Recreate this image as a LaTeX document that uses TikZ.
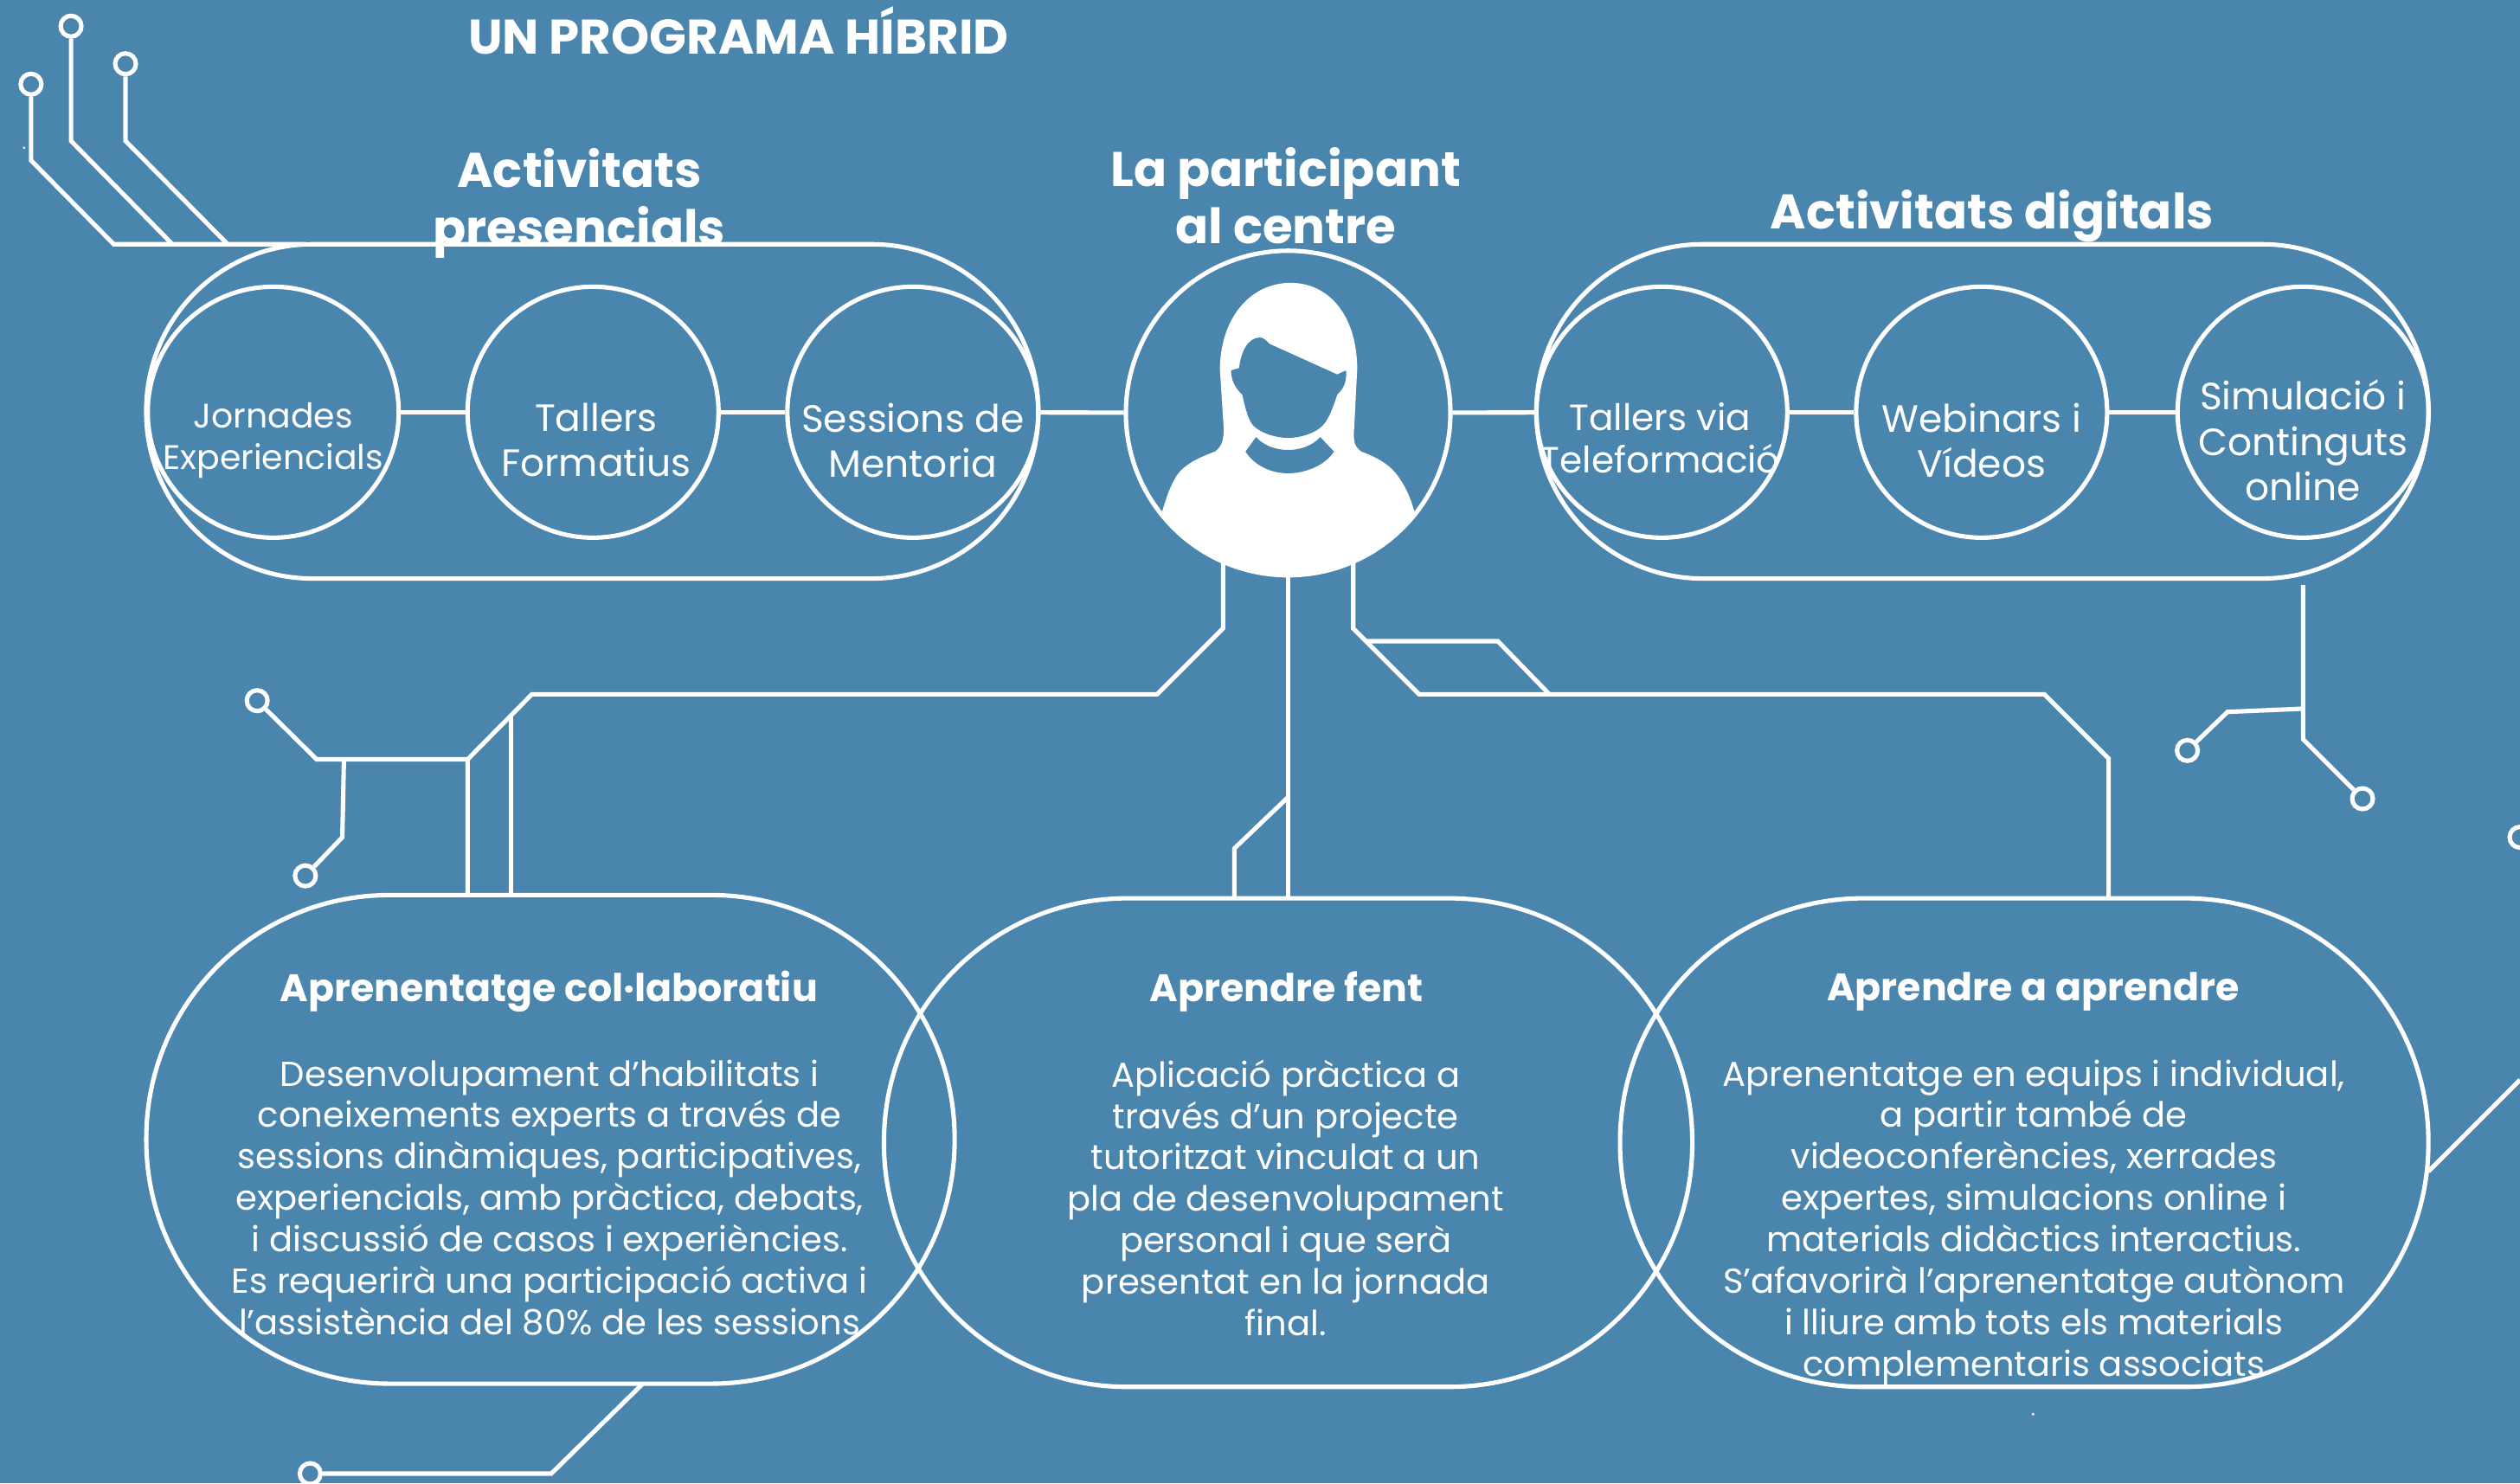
\documentclass[tikz,border=0pt]{standalone}
\usepackage{fontspec}
\setmainfont{Poppins}
\definecolor{bgblue}{RGB}{74,133,174}
\tikzset{
  wire/.style={draw=white,line width=1.45pt,line join=miter},
  circ/.style={circle,draw=white,line width=1.45pt,minimum size=2.9cm,inner sep=0pt},
  capsA/.style={rectangle,draw=white,line width=1.45pt,minimum width=10.307cm,minimum height=3.863cm,rounded corners=1.92cm,inner sep=0pt},
  capsB/.style={rectangle,draw=white,line width=1.45pt,minimum width=9.34cm,minimum height=5.646cm,rounded corners=2.81cm,inner sep=0pt},
  term/.style={circle,draw=white,line width=1.45pt,fill=bgblue,minimum size=0.24cm,inner sep=0pt},
  lbl/.style={text=white,align=center,inner sep=0pt,font=\fontsize{12.5}{14.8}\selectfont},
  lblS/.style={text=white,align=center,inner sep=0pt,font=\fontsize{11.2}{13.6}\selectfont},
  lblT/.style={text=white,align=center,inner sep=0pt,font=\fontsize{12}{14}\selectfont},
  head/.style={text=white,align=center,inner sep=0pt,font=\fontsize{16}{18.8}\selectfont\bfseries},
  subh/.style={text=white,align=center,inner sep=0pt,font=\fontsize{12.6}{14}\selectfont\bfseries},
  body/.style={text=white,align=center,inner sep=0pt,font=\fontsize{11.4}{13.62}\selectfont},
}
\begin{document}
\begin{tikzpicture}[x=0.018571cm,y=-0.018571cm]
\useasboundingbox[fill=bgblue] (0,0) rectangle (1568,923);
% capsules
\node[capsA] (capL) at (368.5,256) {};
\node[capsA] (capR) at (1233.5,256) {};
\node[capsB] (capA) at (342.5,709) {};
\node[capsB] (capB) at (801.5,711) {};
\node[capsB] (capC) at (1259.5,711) {};
% circles
\node[circ] (j) at (170,256.5) {};
\node[circ] (t) at (369,256.5) {};
\node[circ] (s) at (568,256.5) {};
\node[circ] (v) at (1034,256.5) {};
\node[circ] (w) at (1233,256.5) {};
\node[circ] (o) at (1433,256.5) {};
% person
\begin{scope}
\clip (801.5,257) circle [radius=101];
\fill[white] (803,176) .. controls (780,176) and (760,195) .. (759,229) -- (761.5,268)
 .. controls (761,275) and (760,278) .. (756,281) .. controls (745,285) and (735,290) .. (731,298)
 .. controls (727,305) and (725,312) .. (722,322) -- (722,370) -- (882,370) -- (881,322)
 .. controls (878,310) and (875,304) .. (871,298) .. controls (866,290) and (858,285) .. (847,281)
 .. controls (843,278) and (842,275) .. (842.5,268) -- (844.5,229) .. controls (844,195) and (826,176) .. (803,176) -- cycle;
\fill[bgblue] (771,229) .. controls (772,220) and (776,210) .. (784,210) .. controls (786,210) and (788,212) .. (790,214)
 -- (832,233) -- (837.5,230.5) .. controls (838,236) and (837,241) .. (832,245.6)
 .. controls (829,255) and (826,262) .. (822.7,265) .. controls (818,270) and (808,272.5) .. (801.5,272.5)
 .. controls (795,272.5) and (785,270) .. (780,265) .. controls (777,262) and (775,255) .. (773,245.6)
 .. controls (768,241) and (766,236) .. (766,230.5) -- cycle;
\fill[bgblue] (781.5,272) -- (775,281) .. controls (780,289) and (790,294.5) .. (801.5,294.5)
 .. controls (813,294.5) and (825,289) .. (830,281) -- (821.5,272) .. controls (816,278) and (808,280) .. (801.5,280)
 .. controls (795,280) and (787,278) .. (781.5,272) -- cycle;
\end{scope}
\node[circle,draw=white,line width=1.45pt,minimum size=3.75cm,inner sep=0pt] (p) at (801.5,257) {};
% circle-to-circle links
\draw[wire] (j) -- (t);
\draw[wire] (t) -- (s);
\draw[wire] (s) -- (p);
\draw[wire] (p) -- (v);
\draw[wire] (v) -- (w);
\draw[wire] (w) -- (o);
% terminals
\node[term] (a1) at (19.3,52.4) {};
\node[term] (a2) at (44.2,16.3) {};
\node[term] (a3) at (78.1,39.7) {};
\node[term] (b1) at (160,436) {};
\node[term] (b2) at (190,545) {};
\node[term] (d1) at (1361,467) {};
\node[term] (d2) at (1470,497) {};
\node[term] (e1) at (193,917) {};
\node[term] (f1) at (1568,521) {};
% named free ends
\coordinate (pL) at (761,345);
\coordinate (pR) at (842,345);
\coordinate (pC) at (801.5,358);
\coordinate (jA) at (291,472.5);
\coordinate (jB) at (318,446);
\coordinate (jC) at (214,472.5);
\coordinate (jD) at (801.5,496);
\coordinate (jE) at (850,399);
\coordinate (jF) at (964,432);
\coordinate (jG) at (1433,441);
\coordinate (capAa) at (291,557);
\coordinate (capAb) at (318,557);
\coordinate (capBa) at (801.5,559);
\coordinate (capBb) at (768,559);
\coordinate (capCa) at (1312,559);
\coordinate (capLt) at (190,152);
\coordinate (capRb) at (1433,364);
\coordinate (capAc) at (400,861);
\coordinate (capCr) at (1511,729);
\coordinate (edge) at (1568,672);
% top-left wires
\draw[wire] (a1) -- (19.3,99.8) -- (70.8,152) -- (capLt);
\draw[wire] (a2) -- (44.2,87.7) -- (107.3,152);
\draw[wire] (a3) -- (78.1,87.7) -- (141.7,152);
% participant to blocks
\draw[wire] (pL) -- (761,391) -- (720,432) -- (331,432) -- (jA) -- (capAa);
\draw[wire] (jB) -- (capAb);
\draw[wire] (jA) -- (197,472.5) -- (b1);
\draw[wire] (jC) -- (213,521) -- (b2);
\draw[wire] (pC) -- (capBa);
\draw[wire] (jD) -- (768,528) -- (capBb);
\draw[wire] (pR) -- (842,391) -- (883,432) -- (1272,432) -- (1312,472) -- (capCa);
\draw[wire] (jE) -- (932,399) -- (jF);
\draw[wire] (capRb) -- (1433,460) -- (d2);
\draw[wire] (jG) -- (1386,443) -- (d1);
\draw[wire] (capAc) -- (343,917) -- (e1);
\draw[wire] (capCr) -- (edge);
% specks
\fill[white] (15,92) circle [radius=0.8];
\fill[white] (1265,880) circle [radius=0.9];
% titles
\node[head] (h0) at (459.5,19) {UN PROGRAMA HÍBRID};
\node[head] (h1) at (360.5,126.5) {Activitats\\presencials};
\node[head] (h2) at (800,122) {La participant\\al centre};
\node[head] (h3) at (1239.5,134.5) {Activitats digitals};
% circle labels
\node[lblS] (lj) at (170,274) {Jornades\\Experiencials};
\node[lbl] (lt) at (371,274) {Tallers\\Formatius};
\node[lbl] (ls) at (568,274) {Sessions de\\Mentoria};
\node[lblT] (lv) at (1033,272.5) {Tallers via\\Teleformació};
\node[lbl] (lw) at (1233,274) {Webinars i\\Vídeos};
\node[lbl] (lo) at (1433,274) {Simulació i\\Continguts\\online};
% block text
\node[subh] (sa) at (341.5,617) {Aprenentatge col·laboratiu};
\node[subh] (sb) at (800.5,617) {Aprendre fent};
\node[subh] (sc) at (1265,617) {Aprendre a aprendre};
\node[body,anchor=north] (ba) at (342,659) {Desenvolupament d’habilitats i\\coneixements experts a través de\\sessions dinàmiques, participatives,\\experiencials, amb pràctica, debats,\\i discussió de casos i experiències.\\Es requerirà una participació activa i\\l’assistència del 80\% de les sessions};
\node[body,anchor=north] (bb) at (800,659) {Aplicació pràctica a\\través d’un projecte\\tutoritzat vinculat a un\\pla de desenvolupament\\personal i que serà\\presentat en la jornada\\final.};
\node[body,anchor=north] (bc) at (1265.5,659) {Aprenentatge en equips i individual,\\a partir també de\\videoconferències, xerrades\\expertes, simulacions online i\\materials didàctics interactius.\\S’afavorirà l’aprenentatge autònom\\i lliure amb tots els materials\\complementaris associats};
\end{tikzpicture}
\end{document}
